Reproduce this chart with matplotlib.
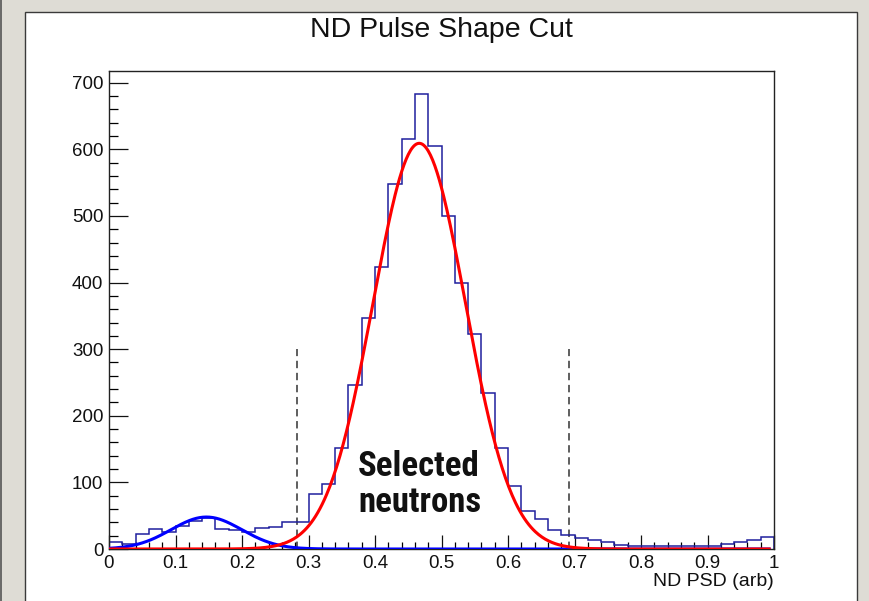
import numpy as np
import matplotlib
matplotlib.use("Agg")
import matplotlib.pyplot as plt
from matplotlib.patches import Rectangle
from matplotlib.ticker import MultipleLocator

plt.rcParams['font.family'] = ['Liberation Sans', 'DejaVu Sans']

# ND PSD histogram, 50 bins over [0, 1]
bin_edges = np.linspace(0.0, 1.0, 51)
counts = [10, 8, 23, 30, 25, 34, 42, 47, 30, 28,
          26, 31, 33, 41, 40, 83, 98, 151, 246, 347,
          424, 548, 616, 683, 605, 500, 399, 323, 234, 151,
          95, 57, 45, 29, 21, 16, 14, 10, 6, 5,
          5, 5, 4, 5, 5, 5, 7, 10, 13, 18]

# Gaussian fit results: (amplitude, mean, sigma)
neutron_fit = (609.0, 0.4665, 0.0695)
gamma_fit = (48.0, 0.1465, 0.053)

# Selection window
cut_low, cut_high = 0.282, 0.691
cut_line_height = 300

title = "ND Pulse Shape Cut"
xlabel = "ND PSD (arb)"
y_ticks = [0, 100, 200, 300, 400, 500, 600, 700]
x_ticks = [0, 0.1, 0.2, 0.3, 0.4, 0.5, 0.6, 0.7, 0.8, 0.9, 1.0]
x_ticklabels = ["0", "0.1", "0.2", "0.3", "0.4", "0.5", "0.6", "0.7", "0.8", "0.9", "1"]

label_fonts = ['Roboto Condensed', 'DejaVu Sans Condensed', 'Liberation Sans Narrow',
               'Roboto', 'DejaVu Sans']


def gauss(x, amp, mu, sigma):
    return amp * np.exp(-0.5 * ((x - mu) / sigma) ** 2)


W, H = 869, 601
fig = plt.figure(figsize=(W / 100, H / 100), dpi=100)
fig.patch.set_facecolor('#dedcd5')

# white canvas with thin border
canvas = Rectangle((25 / W, -0.01), (857 - 25) / W, 1 - 11.7 / H + 0.01,
                   transform=fig.transFigure, facecolor='white',
                   edgecolor='#3a3a3a', linewidth=1.0, zorder=-10)
fig.patches.append(canvas)
edge = plt.Line2D([1.2 / W, 1.2 / W], [0, 1], transform=fig.transFigure,
                  color='#555555', linewidth=1.2, zorder=-10)
fig.lines.append(edge)

ax = fig.add_axes([109 / W, 1 - 549 / H, (774 - 109) / W, (549 - 70.7) / H])
ax.set_zorder(1)
ax.set_facecolor('white')

ax.stairs(counts, bin_edges, color='#1f1f9e', linewidth=1.1, baseline=0, zorder=2)

xf = np.linspace(0.0, 0.995, 600)
ax.plot(xf, gauss(xf, *gamma_fit), color='#0000ff', linewidth=2.2, zorder=3,
        solid_capstyle='butt')
ax.plot(xf, gauss(xf, *neutron_fit), color='#ff0000', linewidth=2.2, zorder=4,
        solid_capstyle='butt')

for xc in (cut_low, cut_high):
    ax.plot([xc, xc], [0, cut_line_height], color='#5e5e5e', linewidth=1.4,
            linestyle=(0, (3.8, 2.4)), zorder=1)

for txt, yb in (("Selected", 109), ("neutrons", 56)):
    ax.text(0.3745, yb, txt, family=label_fonts, fontstretch='condensed',
            fontweight='bold', fontsize=25, va='baseline', ha='left', color='#111111')

ax.set_xlim(0, 1)
ax.set_ylim(0, 718)
ax.set_xticks(x_ticks)
ax.set_xticklabels(x_ticklabels)
ax.set_yticks(y_ticks)
ax.xaxis.set_minor_locator(MultipleLocator(0.02))
ax.yaxis.set_minor_locator(MultipleLocator(20))
ax.tick_params(axis='y', which='major', direction='in', length=13.7, width=0.9,
               pad=4, labelsize=13.5, colors='#111111')
ax.tick_params(axis='y', which='minor', direction='in', length=6.7, width=0.9)
ax.tick_params(axis='x', which='major', direction='in', length=10, width=0.9,
               pad=4.5, labelsize=13.5, colors='#111111')
ax.tick_params(axis='x', which='minor', direction='in', length=5, width=0.9)
for s in ax.spines.values():
    s.set_linewidth(1.0)
    s.set_color('#222222')

fig.text(441 / W, 1 - 30 / H, title, ha='center', va='center', fontsize=20.5,
         color='#111111')
fig.text(774 / W, 1 - 581 / H, xlabel, ha='right', va='center', fontsize=14,
         color='#111111')

fig.savefig('out.png', dpi=100, facecolor=fig.get_facecolor())
